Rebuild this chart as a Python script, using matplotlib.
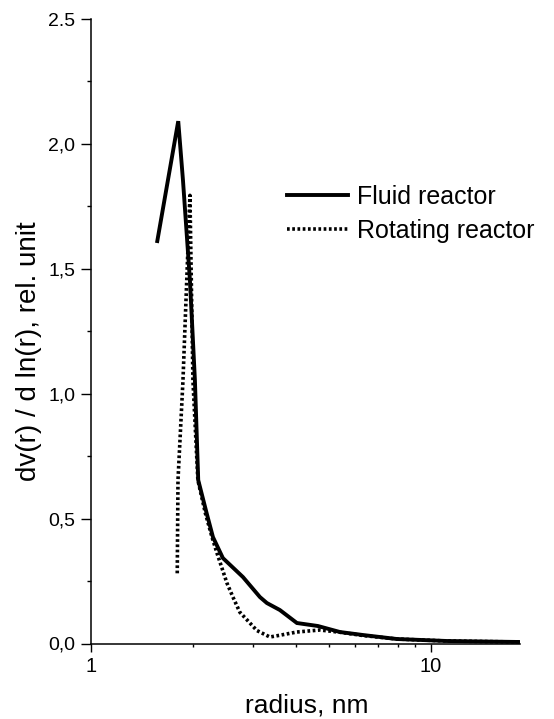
import matplotlib
matplotlib.use("Agg")
import matplotlib.pyplot as plt
from matplotlib.ticker import FixedLocator, FixedFormatter, NullFormatter

plt.rcParams['font.family'] = ['Liberation Sans', 'DejaVu Sans']

# Fluid reactor (solid)
fluid_r = [1.567, 1.806, 1.865, 1.955, 2.022, 2.068, 2.189, 2.285, 2.444, 2.800,
           3.141, 3.293, 3.596, 4.036, 4.653, 5.400, 6.31, 7.94, 11.15, 18.3]
fluid_v = [1.611, 2.091, 1.854, 1.454, 1.054, 0.654, 0.522, 0.426, 0.342, 0.266,
           0.186, 0.162, 0.134, 0.082, 0.070, 0.046, 0.034, 0.018, 0.010, 0.006]

# Rotating reactor (dotted)
rot_r = [1.794, 1.803, 1.865, 1.955, 1.995, 2.063, 2.17, 2.27, 2.348, 2.512, 2.616,
         2.742, 2.876, 3.077, 3.36, 3.596, 4.036, 4.716, 5.40, 6.31, 7.94, 11.15, 18.3]
rot_v = [0.281, 0.654, 1.054, 1.794, 1.054, 0.654, 0.522, 0.426, 0.362, 0.242, 0.186,
         0.125, 0.095, 0.052, 0.026, 0.033, 0.046, 0.054, 0.045, 0.032, 0.018, 0.010, 0.006]

ytick_vals = [0.0, 0.5, 1.0, 1.5, 2.0, 2.5]
ytick_labels = ["0,0", "0,5", "1,0", "1,5", "2,0", "2.5"]
xtick_vals = [1, 10]
xtick_labels = ["1", "10"]

W, H = 554, 719
fig = plt.figure(figsize=(W / 100, H / 100), dpi=100)
ax = fig.add_axes([91 / W, (H - 643.5) / H, (520 - 91) / W, (643.5 - 19) / H])

ax.plot(fluid_r, fluid_v, color='black', lw=2.8, solid_joinstyle='miter',
        label='Fluid reactor')
ax.plot(rot_r, rot_v, color='black', lw=2.6, linestyle=(0, (0.75, 0.7)),
        label='Rotating reactor')

ax.set_xscale('log')
ax.set_xlim(1, 18.3)
ax.set_ylim(0, 2.5)

for s in ['top', 'right']:
    ax.spines[s].set_visible(False)
for s in ['left', 'bottom']:
    ax.spines[s].set_linewidth(1.1)

ax.xaxis.set_major_locator(FixedLocator(xtick_vals))
ax.xaxis.set_major_formatter(FixedFormatter(xtick_labels))
ax.xaxis.set_minor_locator(FixedLocator([2, 3, 4, 5, 6, 7, 8, 9]))
ax.xaxis.set_minor_formatter(NullFormatter())
ax.yaxis.set_major_locator(FixedLocator(ytick_vals))
ax.yaxis.set_major_formatter(FixedFormatter(ytick_labels))
ax.yaxis.set_minor_locator(FixedLocator([0.25, 0.75, 1.25, 1.75, 2.25]))

ax.tick_params(axis='y', which='major', direction='out', length=7.5, width=1, pad=4, labelsize=14)
ax.tick_params(axis='y', which='minor', direction='out', length=3, width=1)
ax.tick_params(axis='x', which='major', direction='out', length=6, width=1, pad=4, labelsize=14.5)
ax.tick_params(axis='x', which='minor', direction='out', length=2.5, width=1)

fig.text(29 / W, (H - 351) / H, "dv(r) / d ln(r), rel. unit", rotation=90,
         ha='center', va='center', fontsize=20)
fig.text(306.5 / W, (H - 712) / H, "radius, nm", ha='center', va='baseline', fontsize=19)

leg = ax.legend(loc='upper left', bbox_to_anchor=(287 / W, (H - 185) / H),
                bbox_transform=fig.transFigure, frameon=False, fontsize=18,
                handlelength=2.45, handletextpad=0.35, labelspacing=0.4,
                borderpad=0, borderaxespad=0)

fig.savefig("out.png", dpi=100)
